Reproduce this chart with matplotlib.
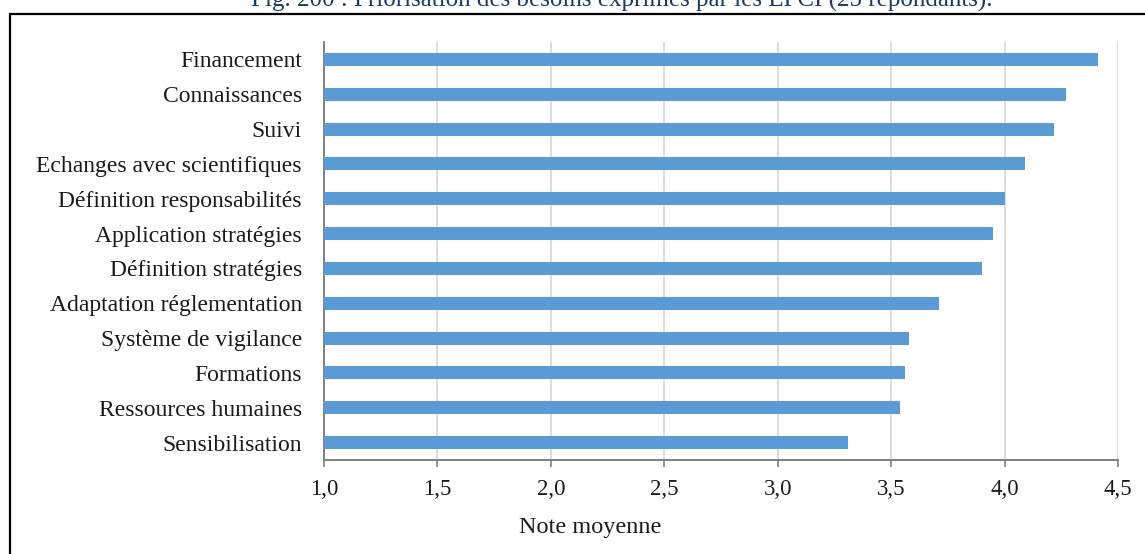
import matplotlib
matplotlib.use("Agg")
import matplotlib.pyplot as plt
from matplotlib.patches import Rectangle

categories = ["Financement", "Connaissances", "Suivi", "Echanges avec scientifiques",
              "Définition responsabilités", "Application stratégies", "Définition stratégies",
              "Adaptation réglementation", "Système de vigilance", "Formations",
              "Ressources humaines", "Sensibilisation"]
values = [4.41, 4.27, 4.22, 4.09, 4.00, 3.95, 3.90, 3.71, 3.58, 3.56, 3.54, 3.31]
xticks = [1.0, 1.5, 2.0, 2.5, 3.0, 3.5, 4.0, 4.5]
xlabel = "Note moyenne"
title = "Fig. 200 : Priorisation des besoins exprimés par les EPCI (25 répondants)."

plt.rcParams['font.family'] = ['Liberation Serif', 'DejaVu Serif']

W, H = 1145, 554
fig = plt.figure(figsize=(W / 100, H / 100), dpi=100)
ax = fig.add_axes([324 / W, 1 - 460 / H, (1118 - 324) / W, (460 - 42) / H])

ypos = list(range(len(categories)))
ax.barh(ypos, [v - 1.0 for v in values], left=1.0, height=0.37, color="#5B9BD5", zorder=3)
ax.set_ylim(len(categories) - 0.5, -0.5)
ax.set_xlim(1.0, 4.5)
ax.set_yticks(ypos)
ax.set_yticklabels(categories, fontsize=17, color="#1a1a1a")
ax.set_xticks(xticks)
ax.set_xticklabels([f"{t:.1f}".replace(".", ",") for t in xticks], fontsize=16.5, color="#1a1a1a")
ax.tick_params(axis='y', length=0, pad=16)
ax.tick_params(axis='x', length=5, width=1.2, color="#808080", pad=9)
ax.grid(axis='x', color="#D9D9D9", linewidth=1.3, zorder=0)
for s in ["top", "right"]:
    ax.spines[s].set_visible(False)
for s in ["left", "bottom"]:
    ax.spines[s].set_color("#808080")
    ax.spines[s].set_linewidth(1.4)
ax.set_xlabel(xlabel, fontsize=17.5, color="#1a1a1a", labelpad=14)
ax.xaxis.set_label_coords((590 - 324) / (1118 - 324), -(528 - 460) / (460 - 42))
ax.xaxis.label.set_verticalalignment("center")

# outer frame
fig.patches.append(Rectangle((10 / W, -0.1), 1.2, 1 - 14 / H + 0.1, transform=fig.transFigure,
                             fill=False, edgecolor="black", linewidth=1.6))
# clipped title
fig.text(622 / W, 1 - 7 / H, title, ha="center", va="baseline", fontsize=18, color="#1F3864")

fig.savefig("out.png", dpi=100)
